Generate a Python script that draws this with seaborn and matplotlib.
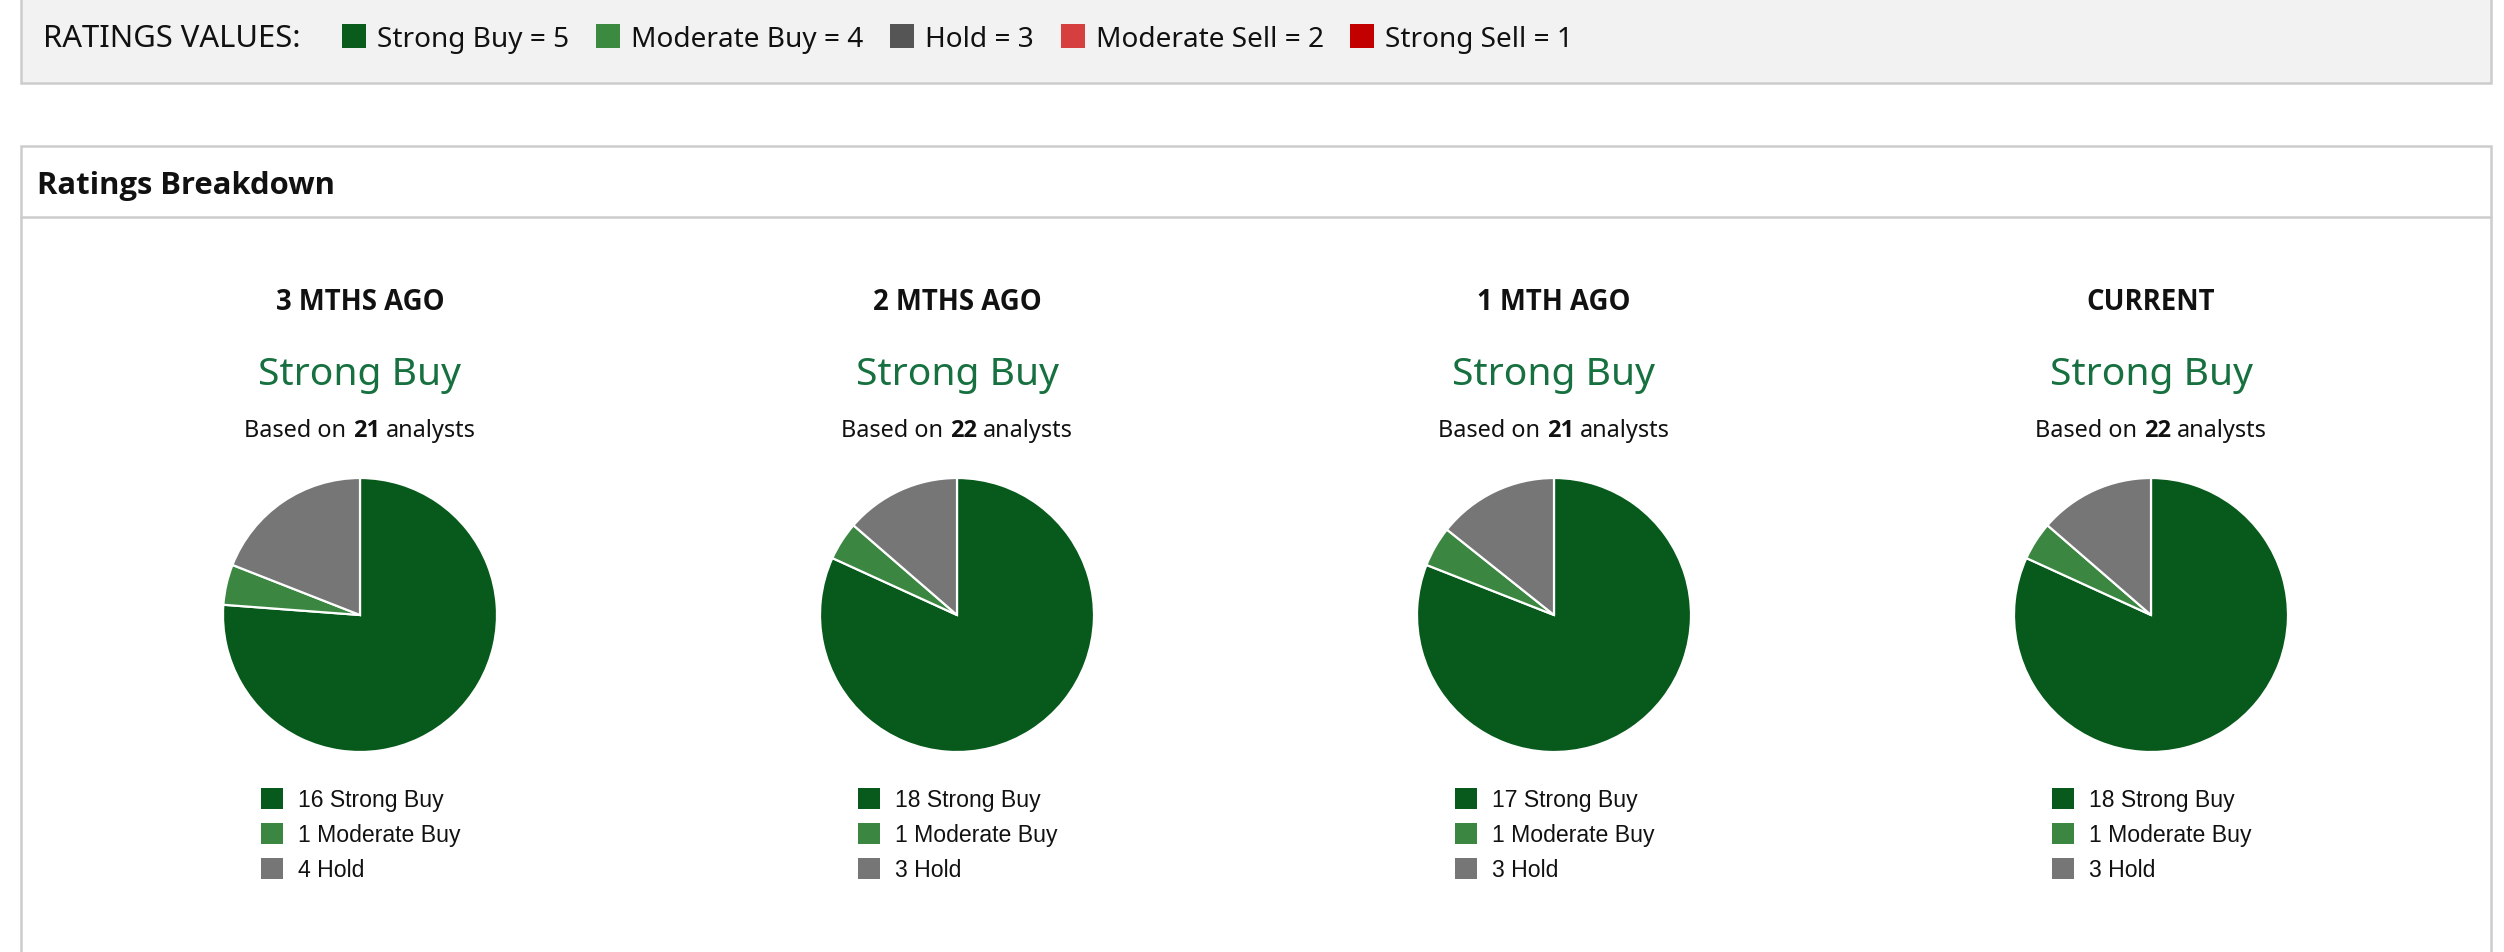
import matplotlib
matplotlib.use("Agg")
import matplotlib.pyplot as plt
from matplotlib.patches import Rectangle
import seaborn as sns

# ---------------- data ----------------
periods = ["3 MTHS AGO", "2 MTHS AGO", "1 MTH AGO", "CURRENT"]
consensus = ["Strong Buy", "Strong Buy", "Strong Buy", "Strong Buy"]
analysts = [21, 22, 21, 22]
strong_buy = [16, 18, 17, 18]
moderate_buy = [1, 1, 1, 1]
hold = [4, 3, 3, 3]
pie_labels = ["Strong Buy", "Moderate Buy", "Hold"]

rating_names = ["Strong Buy", "Moderate Buy", "Hold", "Moderate Sell", "Strong Sell"]
rating_values = [5, 4, 3, 2, 1]

# ---------------- style ----------------
sns.set_theme(style="white")
plt.rcParams["font.family"] = ["Noto Sans", "DejaVu Sans"]
REG = ["Noto Sans", "DejaVu Sans"]
BOLD = ["Open Sans", "DejaVu Sans"]
LEG = ["Liberation Sans", "DejaVu Sans"]

header_colors = sns.color_palette(["#0a5c1c", "#3b8a40", "#555555", "#d63f3f", "#c20000"])
pie_colors = sns.color_palette(["#075a1b", "#3b8641", "#767676"])
green_text = "#17703f"
border = "#cccccc"

W, H = 2504, 952
DPI = 100
fig = plt.figure(figsize=(W / DPI, H / DPI), dpi=DPI)
fig.patch.set_facecolor("white")

bg = fig.add_axes([0, 0, 1, 1], zorder=0)
bg.set_xlim(0, W)
bg.set_ylim(H, 0)
bg.axis("off")
renderer = fig.canvas.get_renderer()

def px(v):
    return v * 72.0 / DPI

# header box
bg.add_patch(Rectangle((21, -10), 2470, 93, facecolor="#f2f2f2", edgecolor=border, lw=px(2.5)))
bg.text(43, 47, "RATINGS VALUES:", fontsize=px(31), family=REG, color="#111111",
        va="baseline", ha="left")
sq_x = [342, 596, 890, 1061, 1350]
for x0, name, val, col in zip(sq_x, rating_names, rating_values, header_colors):
    bg.add_patch(Rectangle((x0, 24), 24, 24, facecolor=col, edgecolor="none"))
    bg.text(x0 + 35, 47, f"{name} = {val}", fontsize=px(28), family=REG, color="#111111",
            va="baseline", ha="left")

# breakdown box
bg.add_patch(Rectangle((21, 146), 2470, 900, facecolor="white", edgecolor=border, lw=px(2.5)))
bg.plot([21, 2491], [217, 217], color=border, lw=px(2.5))
bg.text(37, 194, "Ratings Breakdown", fontsize=px(31), fontweight="bold", family=BOLD,
        color="#111111", va="baseline", ha="left")


def centered_parts(parts, cx, y, size_px, color="#111111"):
    texts = []
    widths = []
    for s, w in parts:
        fam = BOLD if w == "bold" else REG
        t = bg.text(0, y, s, fontsize=px(size_px), fontweight=w, family=fam, color=color,
                    va="baseline", ha="left")
        bb = t.get_window_extent(renderer=renderer)
        texts.append(t)
        widths.append(bb.width)
    gap = 0.26 * size_px
    total = sum(widths) + gap * (len(parts) - 1)
    x = cx - total / 2
    for t, w in zip(texts, widths):
        t.set_x(x)
        x += w + gap


centers = [360, 957, 1554, 2151]
cy, R = 615, 137
for i, cx in enumerate(centers):
    bg.text(cx, 310, periods[i], fontsize=px(27.5), fontweight="bold", family=BOLD,
            color="#111111", ha="center", va="baseline")
    bg.text(cx, 385, consensus[i], fontsize=px(39), family=REG, color=green_text,
            ha="center", va="baseline")
    centered_parts([("Based on", "normal"), (str(analysts[i]), "bold"), ("analysts", "normal")],
                   cx, 437, 23.5)

    vals = [strong_buy[i], moderate_buy[i], hold[i]]
    pax = fig.add_axes([(cx - R - 2) / W, 1 - (cy + R + 2) / H, (2 * R + 4) / W, (2 * R + 4) / H],
                       zorder=2)
    pax.pie(vals, colors=pie_colors, startangle=90, counterclock=False, radius=1,
            wedgeprops=dict(edgecolor="white", linewidth=px(2.2)))
    pax.set_xlim(-(R + 2) / R, (R + 2) / R)
    pax.set_ylim(-(R + 2) / R, (R + 2) / R)
    pax.set_aspect("equal")
    pax.axis("off")

    for j, (lab, v, col) in enumerate(zip(pie_labels, vals, pie_colors)):
        yc = 798 + 35 * j
        bg.add_patch(Rectangle((cx - 99, yc - 10), 22, 21, facecolor=col, edgecolor="none"))
        bg.text(cx - 62, yc + 9, f"{v} {lab}", fontsize=px(23), family=LEG, color="#111111",
                ha="left", va="baseline")

fig.savefig("out.png", dpi=DPI, facecolor="white")
